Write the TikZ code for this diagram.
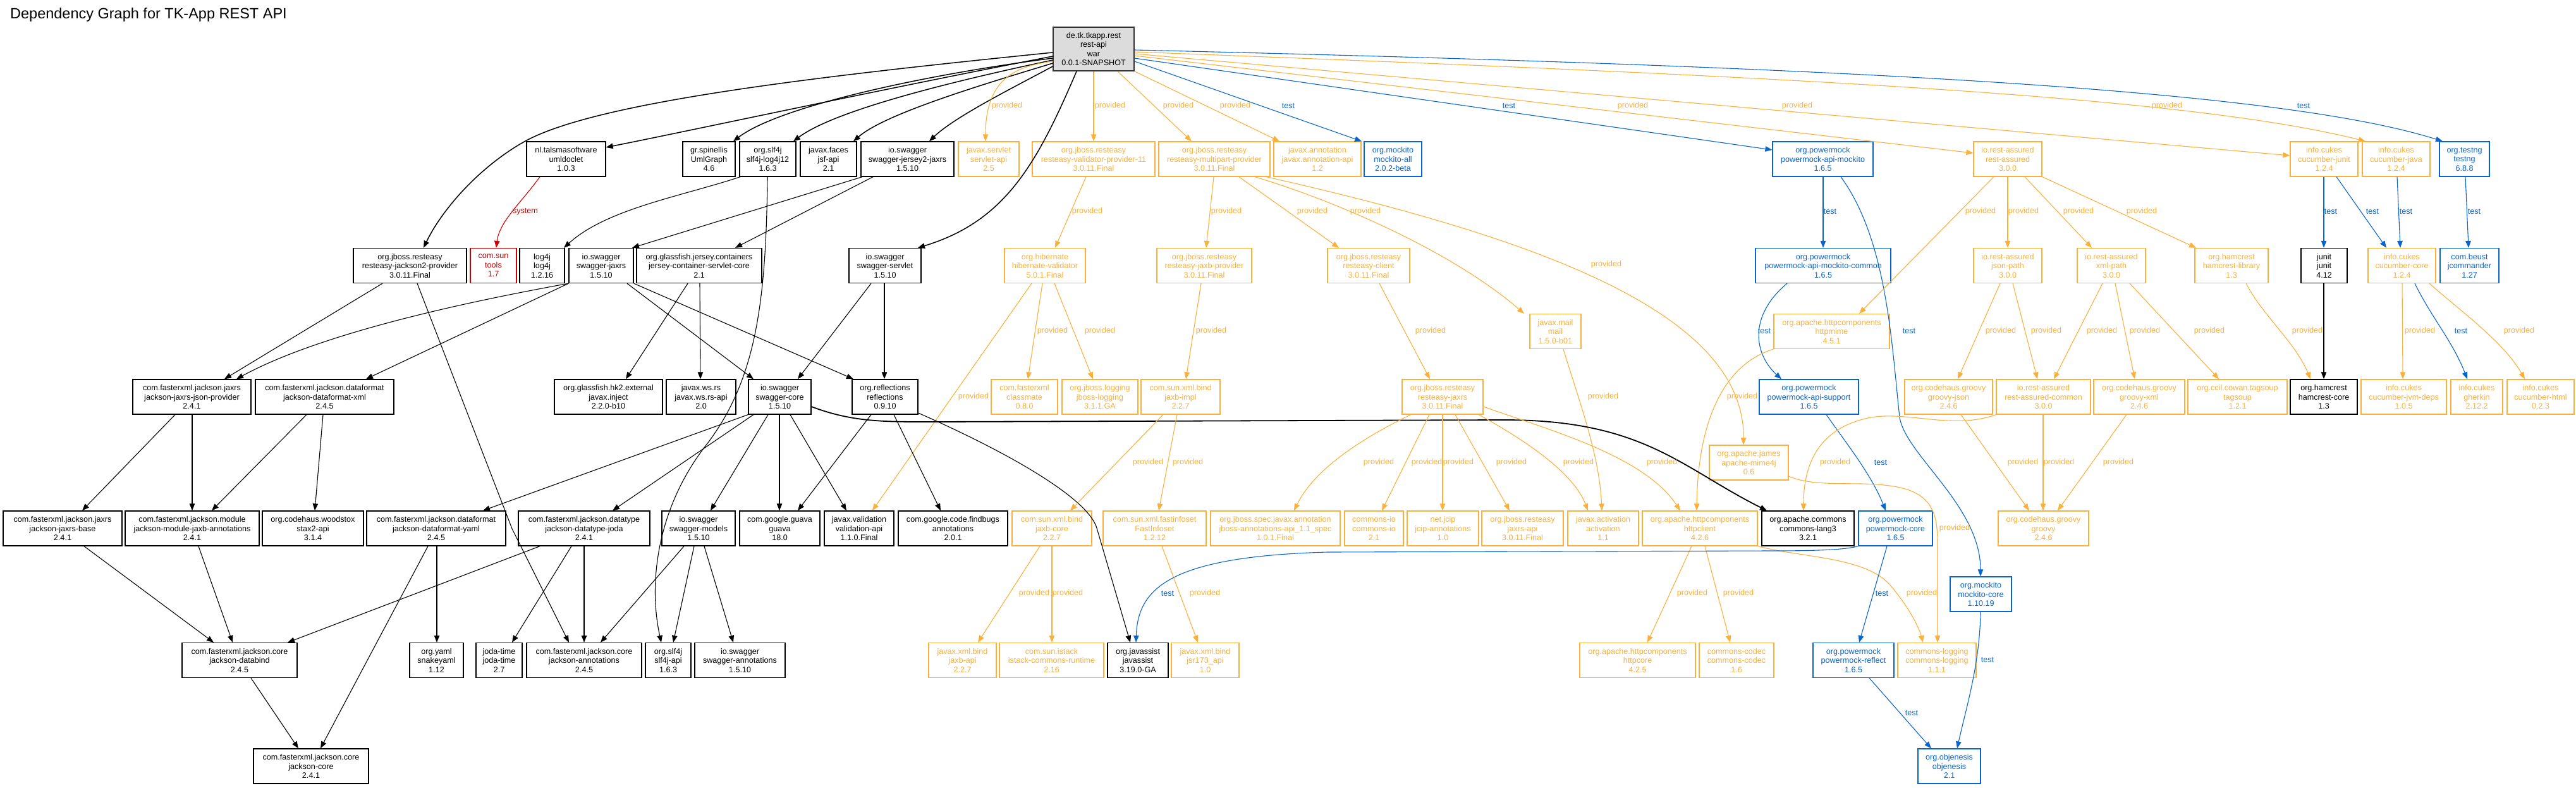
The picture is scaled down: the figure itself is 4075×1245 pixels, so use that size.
\documentclass[tikz,border=0pt]{standalone}
\usepackage{fontspec}
\setmainfont{Liberation Sans}
\usetikzlibrary{arrows.meta}
\definecolor{orC}{RGB}{251,176,59}
\definecolor{blC}{RGB}{10,100,205}
\definecolor{rdC}{RGB}{204,0,0}
\definecolor{rootfill}{RGB}{220,220,220}
\newcommand{\GNode}[6]{\node[#1,minimum width=#5pt] (#2) at (#3,#4) {#6};}
\newcommand{\GLab}[5]{\node[#1] (#2) at (#3,#4) {#5};}
\tikzset{
  box/.style={rectangle, inner sep=0pt, minimum height=55pt, align=center, fill=white,
    font=\fontsize{12.6}{14.5}\selectfont},
  nb/.style={box, draw=black, line width=1.3pt},
  no/.style={box, draw=orC, text=orC, line width=1.2pt},
  nbl/.style={box, draw=blC, text=blC, line width=1.2pt},
  nr/.style={box, draw=rdC, text=rdC, line width=1.2pt},
  tip/.style={-{Triangle[length=11pt,width=8.5pt]}},
  eb/.style={tip, draw=black, line width=1.1pt},
  ebk/.style={tip, draw=black, line width=1.5pt},
  eo/.style={tip, draw=orC, line width=1.1pt},
  ebl/.style={tip, draw=blC, line width=1.1pt},
  er/.style={tip, draw=rdC, line width=1.1pt},
  lab/.style={inner sep=0pt, font=\fontsize{12.6}{14.5}\selectfont},
  lo/.style={lab, text=orC},
  lb/.style={lab, text=blC},
  lr/.style={lab, text=rdC}
}
\begin{document}
\begin{tikzpicture}[x=1pt,y=-1pt]
\useasboundingbox (0,0) rectangle (4075,1245);
\fill[white] (0,0) rectangle (4075,1245);
\node[anchor=base west, inner sep=0pt, font=\fontsize{23.5}{28}\selectfont] (title) at (16,29) {Dependency Graph for TK-App REST API};

% root
\node[box, draw=black!80, line width=1.6pt, fill=rootfill, minimum width=128pt, minimum height=69pt] (root) at (1730,77.5) {de.tk.tkapp.rest\\rest-api\\war\\0.0.1-SNAPSHOT};

% rank 1
\GNode{nb}{uml}{895.5}{251.5}{125}{nl.talsmasoftware\\umldoclet\\1.0.3}
\GNode{nb}{umlgraph}{1121.5}{251.5}{83}{gr.spinellis\\UmlGraph\\4.6}
\GNode{nb}{slflog}{1214.5}{251.5}{89}{org.slf4j\\slf4j-log4j12\\1.6.3}
\GNode{nb}{jsf}{1310.5}{251.5}{89}{javax.faces\\jsf-api\\2.1}
\GNode{nb}{sjersey}{1435.5}{251.5}{147}{io.swagger\\swagger-jersey2-jaxrs\\1.5.10}
\GNode{no}{servlet}{1564}{251.5}{96}{javax.servlet\\servlet-api\\2.5}
\GNode{no}{valprov}{1730}{251.5}{194}{org.jboss.resteasy\\resteasy-validator-provider-11\\3.0.11.Final}
\GNode{no}{multi}{1921}{251.5}{176}{org.jboss.resteasy\\resteasy-multipart-provider\\3.0.11.Final}
\GNode{no}{annot}{2084}{251.5}{138}{javax.annotation\\javax.annotation-api\\1.2}
\GNode{nbl}{mockall}{2203.5}{251.5}{91}{org.mockito\\mockito-all\\2.0.2-beta}
\GNode{nbl}{pmapi}{2883.5}{251.5}{159}{org.powermock\\powermock-api-mockito\\1.6.5}
\GNode{no}{ra}{3176}{251.5}{108}{io.rest-assured\\rest-assured\\3.0.0}
\GNode{no}{cjunit}{3676.5}{251.5}{107}{info.cukes\\cucumber-junit\\1.2.4}
\GNode{no}{cjava}{3790.5}{251.5}{107}{info.cukes\\cucumber-java\\1.2.4}
\GNode{nbl}{testng}{3898.5}{251.5}{79}{org.testng\\testng\\6.8.8}

% rank 2
\GNode{nb}{jack2}{648.5}{420}{179}{org.jboss.resteasy\\resteasy-jackson2-provider\\3.0.11.Final}
\GNode{nr}{tools}{780.5}{420}{73}{com.sun\\tools\\1.7}
\GNode{nb}{log4j}{857.5}{420}{71}{log4j\\log4j\\1.2.16}
\GNode{nb}{sjaxrs}{951}{420}{102}{io.swagger\\swagger-jaxrs\\1.5.10}
\GNode{nb}{jcont}{1106}{420}{198}{org.glassfish.jersey.containers\\jersey-container-servlet-core\\2.1}
\GNode{nb}{sservlet}{1400}{420}{114}{io.swagger\\swagger-servlet\\1.5.10}
\GNode{no}{hibval}{1653}{420}{128}{org.hibernate\\hibernate-validator\\5.0.1.Final}
\GNode{no}{jaxbprov}{1905}{420}{150}{org.jboss.resteasy\\resteasy-jaxb-provider\\3.0.11.Final}
\GNode{no}{client}{2165}{420}{130}{org.jboss.resteasy\\resteasy-client\\3.0.11.Final}
\GNode{nbl}{pmcommon}{2884}{420}{214}{org.powermock\\powermock-api-mockito-common\\1.6.5}
\GNode{no}{jsonpath}{3176}{420}{108}{io.rest-assured\\json-path\\3.0.0}
\GNode{no}{xmlpath}{3340}{420}{108}{io.rest-assured\\xml-path\\3.0.0}
\GNode{no}{hamlib}{3530}{420}{116}{org.hamcrest\\hamcrest-library\\1.3}
\GNode{nb}{junit}{3676.5}{420}{73}{junit\\junit\\4.12}
\GNode{no}{ccore}{3799.5}{420}{107}{info.cukes\\cucumber-core\\1.2.4}
\GNode{nbl}{jcmd}{3906.5}{420}{93}{com.beust\\jcommander\\1.27}

% middle
\GNode{no}{mail}{2460.5}{524}{81}{javax.mail\\mail\\1.5.0-b01}
\GNode{no}{hmime}{2897.5}{524}{183}{org.apache.httpcomponents\\httpmime\\4.5.1}

% rank 3
\GNode{nb}{jjson}{303.5}{627.5}{187}{com.fasterxml.jackson.jaxrs\\jackson-jaxrs-json-provider\\2.4.1}
\GNode{nb}{dxml}{513.5}{627.5}{219}{com.fasterxml.jackson.dataformat\\jackson-dataformat-xml\\2.4.5}
\GNode{nb}{inject}{962.5}{627.5}{171}{org.glassfish.hk2.external\\javax.inject\\2.2.0-b10}
\GNode{nb}{wsrs}{1109}{627.5}{110}{javax.ws.rs\\javax.ws.rs-api\\2.0}
\GNode{nb}{score}{1233.5}{627.5}{99}{io.swagger\\swagger-core\\1.5.10}
\GNode{nb}{refl}{1400}{627.5}{104}{org.reflections\\reflections\\0.9.10}
\GNode{no}{classmate}{1620.5}{627.5}{105}{com.fasterxml\\classmate\\0.8.0}
\GNode{no}{jblog}{1740}{627.5}{120}{org.jboss.logging\\jboss-logging\\3.1.1.GA}
\GNode{no}{jaxbimpl}{1867.5}{627.5}{125}{com.sun.xml.bind\\jaxb-impl\\2.2.7}
\GNode{no}{rjaxrs}{2282}{627.5}{128}{org.jboss.resteasy\\resteasy-jaxrs\\3.0.11.Final}
\GNode{nbl}{pmsupport}{2861.5}{627.5}{157}{org.powermock\\powermock-api-support\\1.6.5}
\GNode{no}{gjson}{3082.5}{627.5}{139}{org.codehaus.groovy\\groovy-json\\2.4.6}
\GNode{no}{racommon}{3232.5}{627.5}{149}{io.rest-assured\\rest-assured-common\\3.0.0}
\GNode{no}{gxml}{3384}{627.5}{144}{org.codehaus.groovy\\groovy-xml\\2.4.6}
\GNode{no}{tagsoup}{3539.5}{627.5}{157}{org.ccil.cowan.tagsoup\\tagsoup\\1.2.1}
\GNode{nb}{hcore}{3676}{627.5}{106}{org.hamcrest\\hamcrest-core\\1.3}
\GNode{no}{jvmdeps}{3802.5}{627.5}{135}{info.cukes\\cucumber-jvm-deps\\1.0.5}
\GNode{no}{gherkin}{3918}{627.5}{82}{info.cukes\\gherkin\\2.12.2}
\GNode{no}{chtml}{4019}{627.5}{106}{info.cukes\\cucumber-html\\0.2.3}

\GNode{no}{mime4j}{2766.5}{731.5}{125}{org.apache.james\\apache-mime4j\\0.6}

% rank 4
\GNode{nb}{jbase}{99}{835.5}{188}{com.fasterxml.jackson.jaxrs\\jackson-jaxrs-base\\2.4.1}
\GNode{nb}{jaxbann}{304}{835.5}{212}{com.fasterxml.jackson.module\\jackson-module-jaxb-annotations\\2.4.1}
\GNode{nb}{stax}{495}{835.5}{160}{org.codehaus.woodstox\\stax2-api\\3.1.4}
\GNode{nb}{dyaml}{690}{835.5}{220}{com.fasterxml.jackson.dataformat\\jackson-dataformat-yaml\\2.4.5}
\GNode{nb}{joda}{924}{835.5}{208}{com.fasterxml.jackson.datatype\\jackson-datatype-joda\\2.4.1}
\GNode{nb}{smodels}{1105}{835.5}{116}{io.swagger\\swagger-models\\1.5.10}
\GNode{nb}{guava}{1233.5}{835.5}{127}{com.google.guava\\guava\\18.0}
\GNode{nb}{valapi}{1359}{835.5}{110}{javax.validation\\validation-api\\1.1.0.Final}
\GNode{nb}{findbugs}{1507.5}{835.5}{173}{com.google.code.findbugs\\annotations\\2.0.1}
\GNode{no}{jaxbcore}{1664}{835.5}{126}{com.sun.xml.bind\\jaxb-core\\2.2.7}
\GNode{no}{fastinfo}{1826.5}{835.5}{163}{com.sun.xml.fastinfoset\\FastInfoset\\1.2.12}
\GNode{no}{jbannot}{2017.5}{835.5}{205}{org.jboss.spec.javax.annotation\\jboss-annotations-api\_1.1\_spec\\1.0.1.Final}
\GNode{no}{cio}{2173.5}{835.5}{93}{commons-io\\commons-io\\2.1}
\GNode{no}{jcip}{2282.5}{835.5}{113}{net.jcip\\jcip-annotations\\1.0}
\GNode{no}{jaxrsapi}{2408.5}{835.5}{129}{org.jboss.resteasy\\jaxrs-api\\3.0.11.Final}
\GNode{no}{activation}{2536}{835.5}{112}{javax.activation\\activation\\1.1}
\GNode{no}{hclient}{2689}{835.5}{182}{org.apache.httpcomponents\\httpclient\\4.2.6}
\GNode{nb}{lang3}{2860}{835.5}{146}{org.apache.commons\\commons-lang3\\3.2.1}
\GNode{nbl}{pmcore}{2998.5}{835.5}{117}{org.powermock\\powermock-core\\1.6.5}
\GNode{no}{groovy}{3232.5}{835.5}{143}{org.codehaus.groovy\\groovy\\2.4.6}

\GNode{nbl}{mockcore}{3133.5}{939.5}{97}{org.mockito\\mockito-core\\1.10.19}

% rank 5
\GNode{nb}{databind}{379}{1044}{182}{com.fasterxml.jackson.core\\jackson-databind\\2.4.5}
\GNode{nb}{snake}{690.5}{1044}{85}{org.yaml\\snakeyaml\\1.12}
\GNode{nb}{jodatime}{789.5}{1044}{73}{joda-time\\joda-time\\2.7}
\GNode{nb}{jannot}{924}{1044}{182}{com.fasterxml.jackson.core\\jackson-annotations\\2.4.5}
\GNode{nb}{slfapi}{1057}{1044}{72}{org.slf4j\\slf4j-api\\1.6.3}
\GNode{nb}{sannot}{1170.5}{1044}{143}{io.swagger\\swagger-annotations\\1.5.10}
\GNode{no}{jaxbapi}{1522.5}{1044}{107}{javax.xml.bind\\jaxb-api\\2.2.7}
\GNode{no}{istack}{1663.5}{1044}{165}{com.sun.istack\\istack-commons-runtime\\2.16}
\GNode{nb}{javassist}{1800}{1044}{96}{org.javassist\\javassist\\3.19.0-GA}
\GNode{no}{jsr}{1906.5}{1044}{107}{javax.xml.bind\\jsr173\_api\\1.0}
\GNode{no}{hcorelib}{2590.5}{1044}{183}{org.apache.httpcomponents\\httpcore\\4.2.5}
\GNode{no}{codec}{2747}{1044}{118}{commons-codec\\commons-codec\\1.6}
\GNode{nbl}{pmreflect}{2932}{1044}{128}{org.powermock\\powermock-reflect\\1.6.5}
\GNode{no}{clog}{3064}{1044}{124}{commons-logging\\commons-logging\\1.1.1}

% rank 6
\GNode{nb}{jcore}{492}{1211.5}{182}{com.fasterxml.jackson.core\\jackson-core\\2.4.1}
\GNode{nbl}{objenesis}{3083.5}{1211.5}{99}{org.objenesis\\objenesis\\2.1}

% ---------------- edges from root
\draw[ebk] (root.west |- 0,83) .. controls (1300,120) and (950,160) .. (833,222) .. controls (760,262) and (700,330) .. (jack2.north -| 670,0);
\draw[ebk] (root.west |- 0,89) .. controls (1400,140) and (1100,205) .. (uml.east |- 0,233);
\draw[ebk] (root.west |- 0,92) .. controls (1450,120) and (1230,170) .. (umlgraph.north -| 1160,0);
\draw[ebk] (root.west |- 0,95) .. controls (1500,130) and (1320,175) .. (slflog.north -| 1255,0);
\draw[ebk] (root.west |- 0,100) .. controls (1550,135) and (1400,180) .. (jsf.north -| 1350,0);
\draw[ebk] (root.west |- 0,105) .. controls (1600,140) and (1510,185) .. (sjersey.north -| 1470,0);
\draw[ebk] (root.south -| 1703,0) .. controls (1640,260) and (1590,350) .. (sservlet.north -| 1452,0);
\draw[eo] (root.west |- 0,97) .. controls (1600,105) and (1559,130) .. (servlet.north -| 1559,0);
\draw[eo] (root.south -| 1730,0) -- (valprov.north -| 1730,0);
\draw[eo] (root.south -| 1768,0) -- (multi.north -| 1885,0);
\draw[eo] (root.south east) -- (annot.north -| 2024,0);
\draw[ebl] (root.east |- 0,97) -- (mockall.north -| 2154,0);
\draw[ebl] (root.east |- 0,92) -- (pmapi.west |- 0,237);
\draw[eo] (root.east |- 0,88) -- (ra.west |- 0,242);
\draw[eo] (root.east |- 0,85) -- (cjunit.west |- 0,246);
\draw[eo] (root.east |- 0,82) .. controls (2800,120) and (3450,150) .. (cjava.north -| 3742,0);
\draw[ebl] (root.east |- 0,79) .. controls (2900,105) and (3600,140) .. (testng.north -| 3864,0);
\GLab{lo}{l1}{1593}{167}{provided}
\GLab{lo}{l2}{1756}{167}{provided}
\GLab{lo}{l3}{1864}{167}{provided}
\GLab{lo}{l4}{1954}{167}{provided}
\GLab{lb}{l5}{2038}{167}{test}
\GLab{lb}{l6}{2387}{167}{test}
\GLab{lo}{l7}{2583}{167}{provided}
\GLab{lo}{l8}{2843}{167}{provided}
\GLab{lo}{l9}{3428}{167}{provided}
\GLab{lb}{l10}{3644}{167}{test}

% ---------------- rank 1 out
\draw[er] (uml.south -| 854,0) .. controls (825,320) and (790,350) .. (tools.north -| 785,0);
\GLab{lr}{l11}{831}{335}{system}
\draw[eb] (slflog.south -| 1171,0) .. controls (1080,310) and (960,330) .. (log4j.north -| 892,0);
\draw[eb] (slflog.south -| 1214,0) .. controls (1212,480) and (1195,600) .. (1120,700) .. controls (1040,800) and (1025,920) .. (slfapi.north -| 1046,0);
\draw[eb] (sjersey.south -| 1364,0) -- (sjaxrs.north -| 1000,0);
\draw[eb] (sjersey.south -| 1381,0) -- (jcont.north -| 1163,0);
\draw[eo] (valprov.south -| 1718,0) -- (hibval.north -| 1669,0);
\draw[eo] (multi.south -| 1920,0) -- (jaxbprov.north -| 1908,0);
\draw[eo] (multi.south -| 1960,0) -- (client.north -| 2118,0);
\draw[eo] (multi.south -| 1985,0) .. controls (2120,320) and (2300,400) .. (mail.north -| 2411,0);
\draw[eo] (multi.south -| 2003,0) .. controls (2450,380) and (2760,500) .. (mime4j.north -| 2758,0);
\draw[ebl] (pmapi.south -| 2884,0) -- (pmcommon.north -| 2884,0);
\draw[ebl] (pmapi.south -| 2912,0) .. controls (2985,380) and (2992,540) .. (3005,660) .. controls (3015,720) and (3133,800) .. (mockcore.north -| 3133,0);
\draw[eo] (ra.south -| 3154,0) -- (hmime.north -| 2941,0);
\draw[eo] (ra.south -| 3176,0) -- (jsonpath.north -| 3176,0);
\draw[eo] (ra.south -| 3203,0) -- (xmlpath.north -| 3309,0);
\draw[eo] (ra.south east) -- (hamlib.north -| 3474,0);
\draw[ebl] (cjunit.south -| 3676,0) -- (junit.north -| 3676,0);
\draw[ebl] (cjunit.south -| 3696,0) -- (ccore.north -| 3775,0);
\draw[ebl] (cjava.south -| 3792,0) -- (ccore.north -| 3797,0);
\draw[ebl] (testng.south -| 3900,0) -- (jcmd.north -| 3905,0);
\GLab{lo}{l12}{1720}{334}{provided}
\GLab{lo}{l13}{1940}{334}{provided}
\GLab{lo}{l14}{2076}{334}{provided}
\GLab{lo}{l15}{2160}{334}{provided}
\GLab{lo}{l16}{2541}{418}{provided}
\GLab{lb}{l17}{2895}{334}{test}
\GLab{lb}{l18}{3020}{523}{test}
\GLab{lo}{l19}{3133}{334}{provided}
\GLab{lo}{l20}{3201}{334}{provided}
\GLab{lo}{l21}{3288}{334}{provided}
\GLab{lo}{l22}{3388}{334}{provided}
\GLab{lb}{l23}{3687}{334}{test}
\GLab{lb}{l24}{3753}{334}{test}
\GLab{lb}{l25}{3806}{334}{test}
\GLab{lb}{l26}{3914}{334}{test}

% ---------------- rank 2 out
\draw[eb] (jack2.south -| 605,0) -- (jjson.north -| 355,0);
\draw[eb] (jack2.south -| 660,0) -- (810,836) -- (jannot.north -| 900,0);
\draw[eb] (sjaxrs.south west) .. controls (780,470) and (520,520) .. (jjson.north -| 374,0);
\draw[eb] (sjaxrs.south west) -- (dxml.north -| 579,0);
\draw[eb] (sjaxrs.south -| 992,0) -- (score.north -| 1192,0);
\draw[eb] (sjaxrs.south east) -- (refl.north -| 1350,0);
\draw[eb] (jcont.south -| 1088,0) -- (inject.north -| 990,0);
\draw[eb] (jcont.south -| 1107,0) -- (wsrs.north -| 1108,0);
\draw[eb] (sservlet.south -| 1378,0) -- (score.north -| 1262,0);
\draw[eb] (sservlet.south -| 1399,0) -- (refl.north -| 1399,0);
\draw[eo] (hibval.south -| 1649,0) -- (classmate.north -| 1626,0);
\draw[eo] (hibval.south -| 1668,0) -- (jblog.north -| 1729,0);
\draw[eo] (hibval.south -| 1632,0) -- (valapi.north -| 1380,0);
\draw[eo] (jaxbprov.south -| 1900,0) -- (jaxbimpl.north -| 1876,0);
\draw[eo] (client.south -| 2182,0) -- (rjaxrs.north -| 2262,0);
\draw[ebl] (pmcommon.south -| 2827,0) .. controls (2765,500) and (2775,560) .. (pmsupport.north -| 2818,0);
\draw[eo] (jsonpath.south -| 3164,0) -- (gjson.north -| 3097,0);
\draw[eo] (jsonpath.south -| 3184,0) -- (racommon.north -| 3223,0);
\draw[eo] (xmlpath.south -| 3326,0) -- (racommon.north -| 3249,0);
\draw[eo] (xmlpath.south -| 3346,0) -- (gxml.north -| 3377,0);
\draw[eo] (xmlpath.south -| 3369,0) -- (tagsoup.north -| 3510,0);
\draw[eo] (hamlib.south -| 3553,0) .. controls (3580,500) and (3630,540) .. (hcore.north -| 3655,0);
\draw[eb] (junit.south -| 3676,0) -- (hcore.north -| 3676,0);
\draw[eo] (ccore.south -| 3800,0) -- (jvmdeps.north -| 3801,0);
\draw[ebl] (ccore.south -| 3820,0) .. controls (3845,500) and (3880,540) .. (gherkin.north -| 3903,0);
\draw[eo] (ccore.south -| 3843,0) .. controls (3890,490) and (3960,540) .. (chtml.north -| 3994,0);
\draw[eo] (mail.south -| 2473,0) .. controls (2500,640) and (2530,720) .. (activation.north -| 2534,0);
\draw[eo] (hmime.south west) .. controls (2730,575) and (2686,660) .. (hclient.north -| 2684,0);
\GLab{lo}{l27}{1665}{523}{provided}
\GLab{lo}{l28}{1740}{523}{provided}
\GLab{lo}{l29}{1540}{627}{provided}
\GLab{lo}{l30}{1916}{523}{provided}
\GLab{lo}{l31}{2263}{523}{provided}
\GLab{lb}{l32}{2791}{523}{test}
\GLab{lo}{l33}{3165}{523}{provided}
\GLab{lo}{l34}{3237}{523}{provided}
\GLab{lo}{l35}{3325}{523}{provided}
\GLab{lo}{l36}{3393}{523}{provided}
\GLab{lo}{l37}{3495}{523}{provided}
\GLab{lo}{l38}{3650}{523}{provided}
\GLab{lo}{l39}{3828}{523}{provided}
\GLab{lb}{l40}{3893}{523}{test}
\GLab{lo}{l41}{3985}{523}{provided}
\GLab{lo}{l42}{2536}{627}{provided}
\GLab{lo}{l43}{2756}{627}{provided}

% ---------------- rank 3 out
\draw[eb] (jjson.south -| 277,0) -- (jbase.north -| 130,0);
\draw[eb] (jjson.south -| 304,0) -- (jaxbann.north -| 304,0);
\draw[eb] (dxml.south -| 485,0) -- (jaxbann.north -| 335,0);
\draw[eb] (dxml.south -| 511,0) -- (stax.north -| 498,0);
\draw[eb] (score.south west) -- (dyaml.north -| 764,0);
\draw[eb] (score.south -| 1192,0) -- (joda.north -| 969,0);
\draw[eb] (score.south -| 1215,0) -- (smodels.north -| 1124,0);
\draw[eb] (score.south -| 1233,0) -- (guava.north -| 1233,0);
\draw[eb] (score.south -| 1250,0) -- (valapi.north -| 1339,0);
\draw[eb, line width=1.8pt] (score.east |- 0,643) .. controls (1350,668) and (1400,667) .. (1480,667) -- (2380,664) .. controls (2600,664) and (2660,740) .. (lang3.north -| 2795,0);
\draw[eb] (refl.south -| 1378,0) -- (guava.north -| 1262,0);
\draw[eb] (refl.south -| 1414,0) -- (findbugs.north -| 1488,0);
\draw[eb] (refl.east |- 0,653) .. controls (1605,720) and (1722,790) .. (1735,835) -- (javassist.north -| 1788,0);
\draw[eo] (jaxbimpl.south -| 1840,0) -- (jaxbcore.north -| 1693,0);
\draw[eo] (jaxbimpl.south -| 1862,0) -- (fastinfo.north -| 1833,0);
\draw[eo] (rjaxrs.south -| 2232,0) .. controls (2160,690) and (2080,740) .. (jbannot.north -| 2047,0);
\draw[eo] (rjaxrs.south -| 2261,0) -- (cio.north -| 2186,0);
\draw[eo] (rjaxrs.south -| 2282,0) -- (jcip.north -| 2282,0);
\draw[eo] (rjaxrs.south -| 2302,0) -- (jaxrsapi.north -| 2388,0);
\draw[eo] (rjaxrs.south -| 2339,0) .. controls (2420,700) and (2490,750) .. (activation.north -| 2512,0);
\draw[eo] (rjaxrs.east |- 0,643) .. controls (2450,680) and (2600,720) .. (hclient.north -| 2658,0);
\draw[ebl] (pmsupport.south -| 2889,0) .. controls (2920,700) and (2960,750) .. (pmcore.north -| 2983,0);
\draw[eo] (gjson.south -| 3102,0) -- (groovy.north -| 3210,0);
\draw[eo] (racommon.south -| 3232,0) -- (groovy.north -| 3232,0);
\draw[eo] (racommon.south west) .. controls (3090,680) and (3020,650) .. (2960,660) .. controls (2880,675) and (2853,730) .. (lang3.north -| 2853,0);
\draw[eo] (gxml.south -| 3364,0) -- (groovy.north -| 3255,0);
\draw[eo] (mime4j.east |- 0,753) .. controls (2880,775) and (2960,755) .. (3020,775) .. controls (3060,790) and (3065,820) .. (3065,860) -- (clog.north -| 3065,0);
\GLab{lo}{l44}{1816}{731}{provided}
\GLab{lo}{l45}{1879}{731}{provided}
\GLab{lo}{l46}{2181}{731}{provided}
\GLab{lo}{l47}{2257}{731}{provided}
\GLab{lo}{l48}{2307}{731}{provided}
\GLab{lo}{l49}{2391}{731}{provided}
\GLab{lo}{l50}{2497}{731}{provided}
\GLab{lo}{l51}{2629}{731}{provided}
\GLab{lb}{l52}{2975}{731}{test}
\GLab{lo}{l53}{3200}{731}{provided}
\GLab{lo}{l54}{3257}{731}{provided}
\GLab{lo}{l55}{2903}{731}{provided}
\GLab{lo}{l56}{3351}{731}{provided}
\GLab{lo}{l57}{3092}{835}{provided}

% ---------------- rank 4 out
\draw[eb] (jbase.south -| 133,0) -- (databind.north -| 338,0);
\draw[eb] (jaxbann.south -| 314,0) -- (databind.north -| 368,0);
\draw[eb] (dyaml.south -| 677,0) -- (jcore.north -| 507,0);
\draw[eb] (dyaml.south -| 691,0) -- (snake.north -| 691,0);
\draw[eb] (joda.south -| 854,0) -- (databind.north -| 455,0);
\draw[eb] (joda.south -| 904,0) -- (jodatime.north -| 810,0);
\draw[eb] (joda.south -| 924,0) -- (jannot.north -| 924,0);
\draw[eb] (smodels.south -| 1082,0) -- (jannot.north -| 950,0);
\draw[eb] (smodels.south -| 1098,0) -- (slfapi.north -| 1065,0);
\draw[eb] (smodels.south -| 1114,0) -- (sannot.north -| 1160,0);
\draw[eo] (jaxbcore.south -| 1645,0) -- (jaxbapi.north -| 1547,0);
\draw[eo] (jaxbcore.south -| 1664,0) -- (istack.north -| 1664,0);
\draw[eo] (fastinfo.south -| 1838,0) -- (jsr.north -| 1895,0);
\draw[eo] (hclient.south -| 2676,0) -- (hcorelib.north -| 2606,0);
\draw[eo] (hclient.south -| 2697,0) -- (codec.north -| 2737,0);
\draw[eo] (hclient.south east) .. controls (2850,882) and (2950,880) .. (2990,925) .. controls (3018,958) and (3035,990) .. (clog.north -| 3042,0);
\draw[ebl] (pmcore.south -| 2985,0) -- (pmreflect.north -| 2941,0);
\draw[ebl] (pmcore.south west) .. controls (2920,869) and (2880,871) .. (2800,871) -- (2100,873) .. controls (1850,880) and (1800,930) .. (javassist.north -| 1797,0);
\draw[ebl] (mockcore.south -| 3133,0) .. controls (3132,1050) and (3110,1120) .. (objenesis.north -| 3096,0);
\draw[ebl] (pmreflect.south -| 2957,0) -- (objenesis.north -| 3055,0);
\draw[eb] (databind.south -| 397,0) -- (jcore.north -| 472,0);
\GLab{lo}{l58}{1636}{938}{provided}
\GLab{lo}{l59}{1689}{938}{provided}
\GLab{lo}{l60}{1906}{938}{provided}
\GLab{lo}{l61}{2677}{938}{provided}
\GLab{lo}{l62}{2750}{938}{provided}
\GLab{lo}{l63}{3040}{938}{provided}
\GLab{lb}{l64}{2977}{938}{test}
\GLab{lb}{l65}{1847}{938}{test}
\GLab{lb}{l66}{3144}{1043}{test}
\GLab{lb}{l67}{3024}{1127}{test}
\end{tikzpicture}
\end{document}
